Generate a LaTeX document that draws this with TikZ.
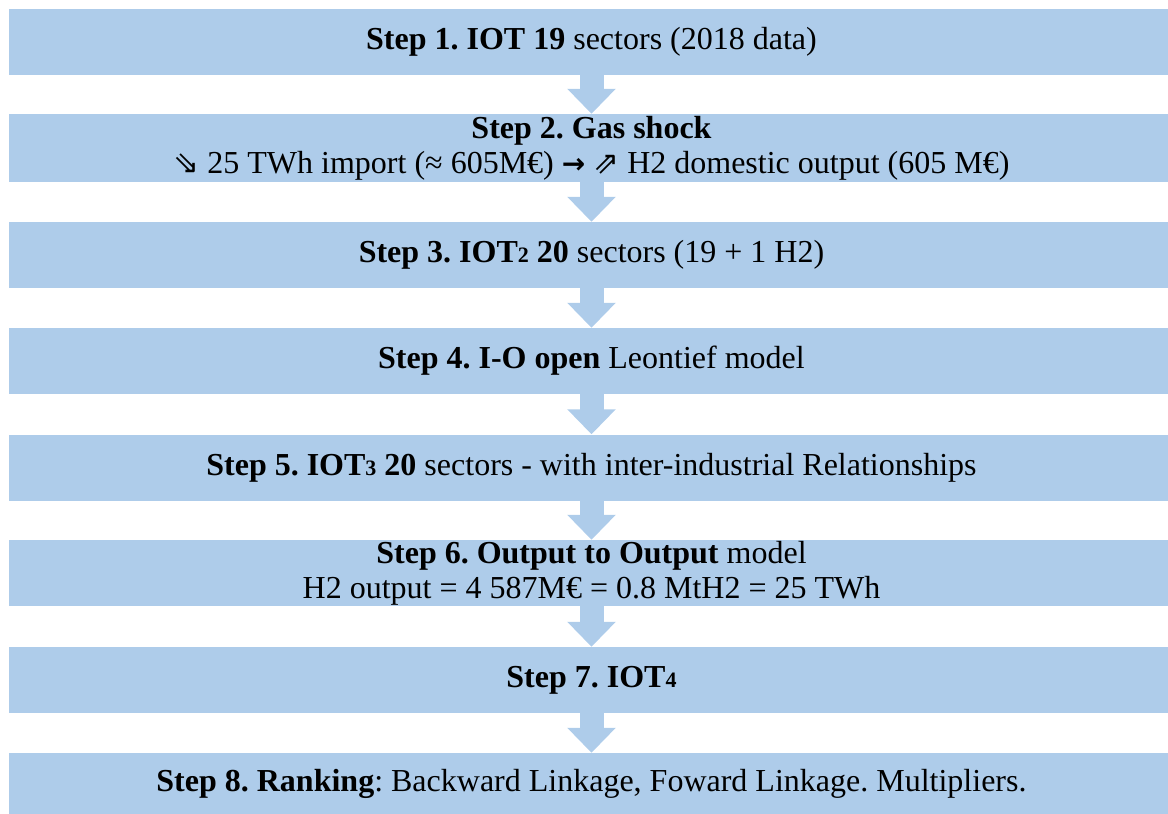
\documentclass[tikz,border=0pt]{standalone}
\usepackage{fontspec}
\setmainfont{Liberation Serif}
\newfontfamily\symfont{DejaVu Sans}
\usetikzlibrary{arrows.meta}
\definecolor{stepblue}{RGB}{174,204,234}
\newcommand{\idx}[1]{{\fontsize{22}{22}\selectfont #1}}
\newcommand{\sym}[1]{{\symfont\fontsize{31}{31}\selectfont #1}}
\frenchspacing
\begin{document}
\begin{tikzpicture}[x=1pt,y=-1pt,
  stepbox/.style={fill=stepblue, minimum width=1165pt, inner sep=0pt,
    align=center, font=\fontsize{32}{35}\selectfont},
  flowarrow/.style={draw=stepblue, line width=24pt,
    -{Triangle[width=47pt,length=25pt]}}]
\useasboundingbox (0,0) rectangle (1168,814);

% the eight steps
\node[stepbox, minimum height=66pt] (s1) at (591.5,42)
  {\textbf{Step 1. IOT 19} sectors (2018 data)};
\node[stepbox, minimum height=68pt] (s2) at (591.5,148)
  {\textbf{Step 2. Gas shock}\\
   \sym{⇘} 25 TWh import (≈ 605M€) {\symfont\bfseries\fontsize{28}{28}\selectfont →} \sym{⇗} H2 domestic output (605 M€)};
\node[stepbox, minimum height=66pt] (s3) at (591.5,255)
  {\textbf{Step 3. IOT\idx{2} 20} sectors (19 + 1 H2)};
\node[stepbox, minimum height=66pt] (s4) at (591.5,361)
  {\textbf{Step 4. I-O open} Leontief model};
\node[stepbox, minimum height=66pt] (s5) at (591.5,467.5)
  {\textbf{Step 5. IOT\idx{3} 20} sectors - with inter-industrial Relationships};
\node[stepbox, minimum height=66pt] (s6) at (591.5,573)
  {\textbf{Step 6. Output to Output} model\\
   H2 output = 4 587M€ = 0.8 MtH2 = 25 TWh};
\node[stepbox, minimum height=66pt] (s7) at (591.5,680)
  {\textbf{Step 7. IOT\idx{4}}};
\node[stepbox, minimum height=62pt] (s8) at (591.5,784)
  {\textbf{Step 8. Ranking}: Backward Linkage, Foward Linkage. Multipliers.};

% block arrows between consecutive steps
\foreach \a/\b in {s1/s2,s2/s3,s3/s4,s4/s5,s5/s6,s6/s7,s7/s8}
  \draw[flowarrow] (\a.south) -- (\b.north);
\end{tikzpicture}
\end{document}
